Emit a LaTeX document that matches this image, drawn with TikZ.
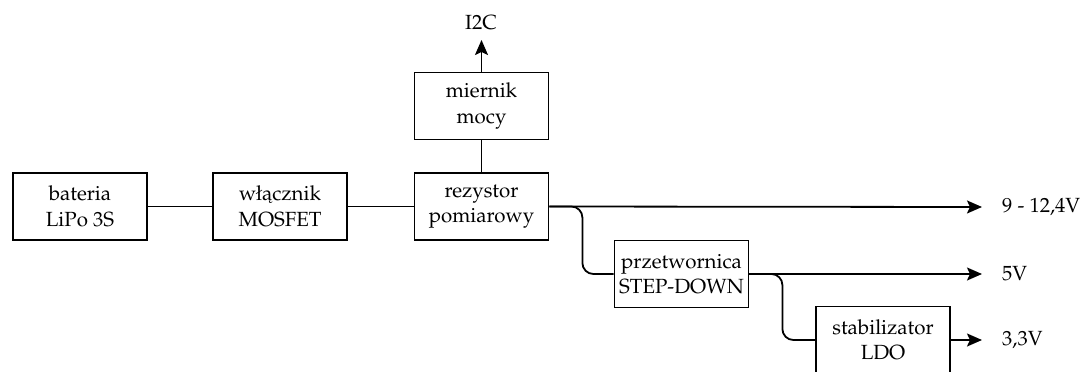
\documentclass[tikz,border=0pt]{standalone}
\usepackage[T1]{fontenc}
\usepackage{mathpazo}
\usetikzlibrary{arrows.meta}
\begin{document}
\begin{tikzpicture}[x=1pt,y=-1pt,
  block/.style={draw,line width=1.8pt,minimum width=134pt,minimum height=67pt,
    align=center,inner sep=0pt,font=\fontsize{20.5}{25.5}\selectfont},
  wire/.style={line width=1.8pt},
  feed/.style={line width=1.8pt,-{Stealth[length=15pt,width=13pt,inset=3pt]}},
  lbl/.style={font=\fontsize{20.5}{25}\selectfont,inner sep=0pt}]
\useasboundingbox (0,0) rectangle (1085,372);
% blocks
\node[block] (bat) at (80,206.5) {bateria\\LiPo 3S};
\node[block] (sw)  at (280,206.5) {w\l\k{a}cznik\\MOSFET};
\node[block] (res) at (481.5,206.5) {rezystor\\pomiarowy};
\node[block] (pm)  at (481.5,106) {miernik\\mocy};
\node[block] (buck) at (681.5,274) {przetwornica\\STEP-DOWN};
\node[block] (ldo) at (883,340) {stabilizator\\LDO};
% output labels
\node[lbl] (i2c) at (481,23) {I2C};
\node[lbl,anchor=west] (v12) at (1002,207) {9 - 12,4V};
\node[lbl,anchor=west] (v5) at (1002,274) {5V};
\node[lbl,anchor=west] (v33) at (1002,340) {3,3V};
\coordinate (i2cin) at (481.5,40);
\coordinate (o12) at (982,207);
\coordinate (o5) at (982,274);
\coordinate (o33) at (982,340);
% connections
\draw[wire] (bat) -- (sw);
\draw[wire] (sw) -- (res);
\draw[wire] (res.north) -- (pm.south);
\draw[feed] (pm.north) -- (i2cin);
\draw[feed] (res.east) -- (o12);
\draw[wire,rounded corners=11pt] (res.east) -- ++(33,0) |- (buck.west);
\draw[feed] (buck.east) -- (o5);
\draw[wire,rounded corners=11pt] (buck.east) -- ++(33,0) |- (ldo.west);
\draw[feed] (ldo.east) -- (o33);
\end{tikzpicture}
\end{document}
